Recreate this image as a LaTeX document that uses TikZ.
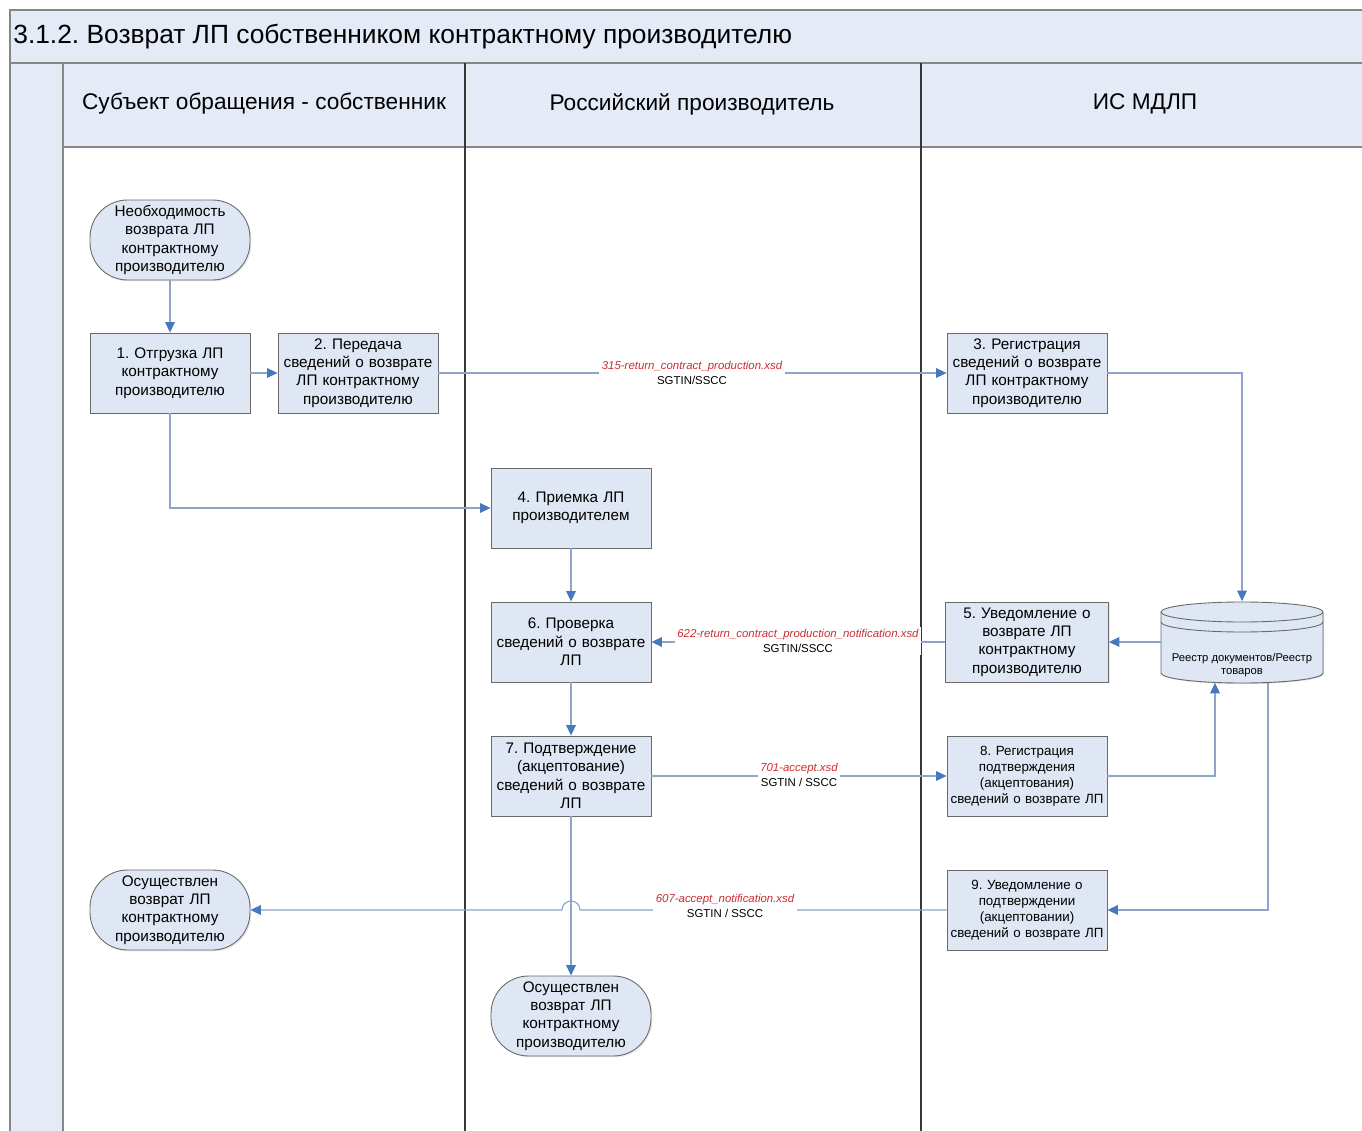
\documentclass[tikz,border=0pt]{standalone}
\usepackage{fontspec}
\setmainfont{Liberation Sans}
\frenchspacing
\usetikzlibrary{arrows.meta,calc,shadows}
\definecolor{hdrfill}{RGB}{228,235,246}
\definecolor{boxfill}{RGB}{222,231,243}
\definecolor{boxline}{RGB}{105,105,105}
\definecolor{frameline}{RGB}{135,135,135}
\definecolor{laneline}{RGB}{55,55,55}
\definecolor{connline}{RGB}{140,165,200}
\definecolor{tipc}{RGB}{70,120,190}
\definecolor{xsdred}{RGB}{205,45,50}
\tikzset{
 procbox/.style={draw=boxline, fill=boxfill, line width=0.5pt, minimum width=3.2cm, minimum height=1.6cm, text width=3.1cm, align=center, inner sep=1pt, font=\fontsize{8.7}{10.5}\selectfont, drop shadow={shadow xshift=0.8pt, shadow yshift=-0.8pt, opacity=0.18}},
 smallbox/.style={procbox, font=\fontsize{7.6}{9.2}\selectfont},
 termbox/.style={procbox, rounded corners=0.75cm},
 conn/.style={draw=connline, line width=0.65pt, -{Triangle[length=6pt,width=5.5pt,color=tipc]}},
 msg/.style={fill=white, align=center, inner sep=1.5pt, font=\fontsize{6.5}{8.7}\selectfont},
 hdrtext/.style={font=\fontsize{12.9}{14}\selectfont},
 frame/.style={draw=frameline, fill=hdrfill, line width=0.7pt},
}
\begin{document}
\begin{tikzpicture}[x=0.02cm,y=-0.02cm]
\useasboundingbox (0,0) rectangle (1362,1131);
\fill[white] (0,0) rectangle (1362,1131);
% frame
\path[frame] (10,10) rectangle (1375,63);
\path[frame] (10,63) rectangle (63,1140);
\path[frame] (63,63) rectangle (1375,147);
\draw[laneline, line width=0.6pt] (465,63) -- (465,1140);
\draw[laneline, line width=0.6pt] (921,63) -- (921,1140);
\node[anchor=west, inner sep=0pt, font=\fontsize{15}{17}\selectfont] (title) at (13,37) {3.1.2. Возврат ЛП собственником контрактному производителю};
\node[hdrtext] (h1) at (264,104) {Субъект обращения - собственник};
\node[hdrtext] (h2) at (692,104) {Российский производитель};
\node[hdrtext] (h3) at (1145,104) {ИС МДЛП};
% nodes
\node[termbox] (T1) at (170,240) {Необходимость\\возврата ЛП\\контрактному\\производителю};
\node[procbox] (B1) at (170,373) {1. Отгрузка ЛП\\контрактному\\производителю};
\node[procbox] (B2) at (358,373) {2. Передача\\сведений о возврате\\ЛП контрактному\\производителю};
\node[procbox] (B3) at (1027,373) {3. Регистрация\\сведений о возврате\\ЛП контрактному\\производителю};
\node[procbox] (B4) at (571,508) {4. Приемка ЛП\\производителем};
\node[procbox] (B6) at (571,642) {6. Проверка\\сведений о возврате\\ЛП};
\node[procbox, minimum width=3.26cm] (B5) at (1027,642) {5. Уведомление о\\возврате ЛП\\контрактному\\производителю};
\node[procbox] (B7) at (571,776) {7. Подтверждение\\(акцептование)\\сведений о возврате\\ЛП};
\node[smallbox] (B8) at (1027,776) {8. Регистрация\\подтверждения\\(акцептования)\\сведений о возврате ЛП};
\node[termbox] (T2) at (170,910) {Осуществлен\\возврат ЛП\\контрактному\\производителю};
\node[smallbox] (B9) at (1027,910) {9. Уведомление о\\подтверждении\\(акцептовании)\\сведений о возврате ЛП};
\node[termbox] (T3) at (571,1016) {Осуществлен\\возврат ЛП\\контрактному\\производителю};
% database cylinder
\node[minimum width=3.24cm, minimum height=1.62cm, inner sep=0pt] (db) at (1242,642) {};
\fill[black, opacity=0.15] (1162,613) -- (1162,674) arc[start angle=180,end angle=360,x radius=1.62cm,y radius=0.2cm] -- (1324,613) -- cycle;
\draw[boxline, fill=boxfill, line width=0.5pt] (1161,612) -- (1161,673) arc[start angle=180,end angle=360,x radius=1.62cm,y radius=0.2cm] -- (1323,612) arc[start angle=0,end angle=180,x radius=1.62cm,y radius=0.2cm] -- cycle;
\draw[boxline, line width=0.5pt] (1161,612) arc[start angle=180,end angle=360,x radius=1.62cm,y radius=0.2cm];
\draw[boxline, line width=0.5pt] (1161,622) arc[start angle=180,end angle=360,x radius=1.62cm,y radius=0.2cm];
\node[align=center, font=\fontsize{6.4}{7.4}\selectfont] (dbtext) at (1242,665) {Реестр документов/Реестр\\товаров};
% connectors
\draw[conn] (T1) -- (B1);
\draw[conn] (B1) -- (B2);
\draw[conn] (B2) -- (B3);
\draw[conn] (B3.east) -| (db.north);
\draw[conn] (B1.south) |- (B4.west);
\draw[conn] (B4) -- (B6);
\draw[conn] (db.west) -- (B5.east);
\draw[conn] (B5) -- (B6);
\draw[conn] (B6) -- (B7);
\draw[conn] (B7) -- (B8);
\draw[conn] (B8.east) -| ($(db.south)+(-27,0)$);
\draw[conn] ($(db.south)+(26,0)$) |- (B9.east);
\draw[conn] (B7) -- (T3);
\draw[conn] (B9.west) -- ($(B7.south |- B9.west)+(9,0)$) arc[start angle=0,end angle=180,radius=0.18cm] -- (T2.east);
% message labels
\node[msg] (m1) at (692,373) {{\color{xsdred}\itshape 315-return\_contract\_production.xsd}\\SGTIN/SSCC};
\node[msg] (m2) at (798,641) {{\color{xsdred}\itshape 622-return\_contract\_production\_notification.xsd}\\SGTIN/SSCC};
\node[msg] (m3) at (799,775) {{\color{xsdred}\itshape 701-accept.xsd}\\SGTIN / SSCC};
\node[msg] (m4) at (725,906) {{\color{xsdred}\itshape 607-accept\_notification.xsd}\\SGTIN / SSCC};
\end{tikzpicture}
\end{document}
